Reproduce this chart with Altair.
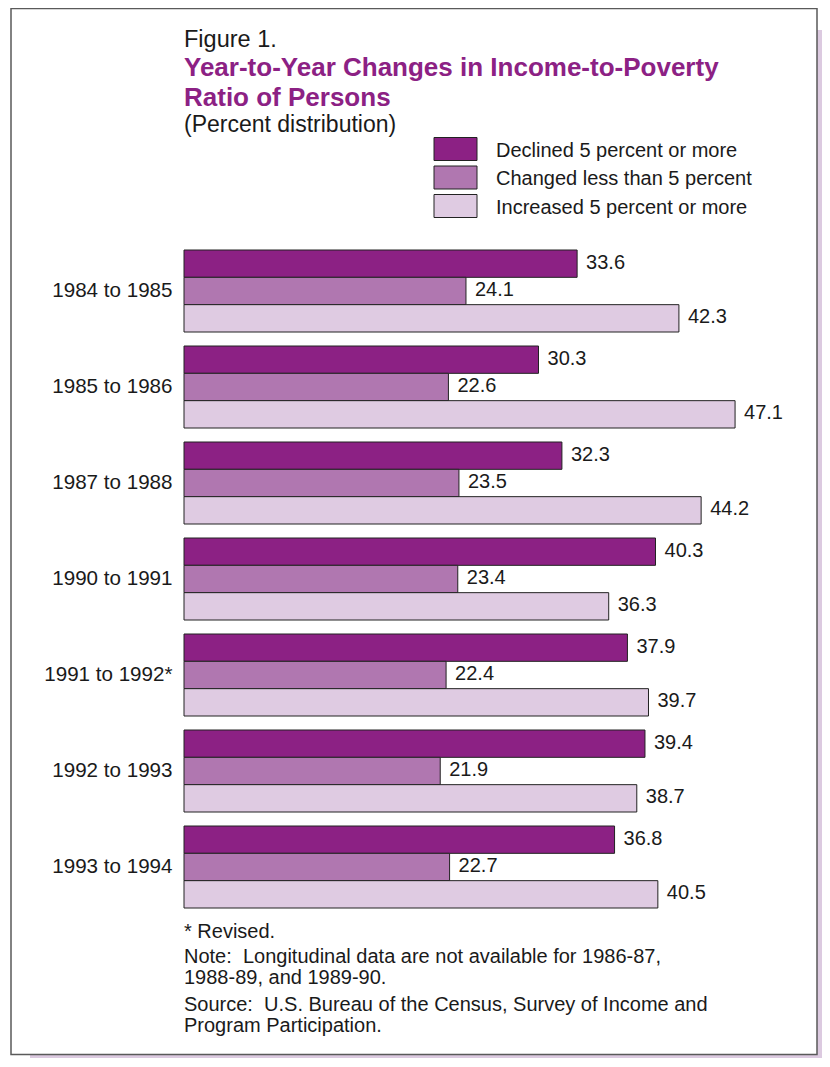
import altair as alt
import pandas as pd

# ---- data ----
periods = ["1984 to 1985", "1985 to 1986", "1987 to 1988", "1990 to 1991",
           "1991 to 1992*", "1992 to 1993", "1993 to 1994"]
series = ["Declined 5 percent or more", "Changed less than 5 percent",
          "Increased 5 percent or more"]
declined = [33.6, 30.3, 32.3, 40.3, 37.9, 39.4, 36.8]
changed = [24.1, 22.6, 23.5, 23.4, 22.4, 21.9, 22.7]
increased = [42.3, 47.1, 44.2, 36.3, 39.7, 38.7, 40.5]
colors = ["#8c2184", "#b077b0", "#dfcbe2"]

title_lines = ["Year-to-Year Changes in Income-to-Poverty", "Ratio of Persons"]
fig_label = "Figure 1."
subtitle = "(Percent distribution)"
notes = ["* Revised.",
         "Note:\u00a0 Longitudinal data are not available for 1986-87,",
         "1988-89, and 1989-90.",
         "Source:\u00a0 U.S. Bureau of the Census, Survey of Income and",
         "Program Participation."]

rows = []
for i, p in enumerate(periods):
    for s, vals in zip(series, [declined, changed, increased]):
        rows.append({"period": p, "series": s, "value": vals[i]})
df = pd.DataFrame(rows)

FONT = "Liberation Sans"
TXT = "#1a1a1a"
PURPLE = "#8c2184"
one = alt.Data(values=[{"k": 0}])

y_enc = alt.Y("period:N", sort=periods, title=None,
              scale=alt.Scale(paddingInner=14 / 96, paddingOuter=0),
              axis=alt.Axis(ticks=False, domain=False, labelFontSize=20.6,
                            labelColor=TXT, labelPadding=12, labelLimit=0,
                            labelFont=FONT, zindex=2))
yoff_enc = alt.YOffset("series:N", sort=series,
                       scale=alt.Scale(paddingInner=0, paddingOuter=0))
x_enc = alt.X("value:Q", scale=alt.Scale(domain=[0, 50]), axis=None)

bars = alt.Chart(df).mark_bar(stroke="#222222", strokeWidth=1).encode(
    y=y_enc, yOffset=yoff_enc, x=x_enc,
    color=alt.Color("series:N", sort=series,
                    scale=alt.Scale(domain=series, range=colors), legend=None),
)
labels = alt.Chart(df).mark_text(align="left", baseline="middle", dx=9, dy=-1,
                                 fontSize=20, color=TXT, font=FONT).encode(
    y=y_enc, yOffset=yoff_enc, x=x_enc,
    text=alt.Text("value:Q", format=".1f"),
)

# decorative frame and shadow (plot-relative pixels)
shadow = alt.Chart(one).mark_rect(fill="#dccae0").encode(
    x=alt.value(-154), x2=alt.value(646), y=alt.value(-220), y2=alt.value(830))
frame = alt.Chart(one).mark_rect(fill="white", stroke="#5a5a5a", strokeWidth=1.5).encode(
    x=alt.value(-173), x2=alt.value(633), y=alt.value(-241.5), y2=alt.value(804.5))

layers = [shadow, frame, bars, labels]

def text_layer(t, x, y, size=20, weight="normal", color=TXT, baseline="alphabetic"):
    return alt.Chart(one).mark_text(text=t, align="left", baseline=baseline,
                                    fontSize=size, fontWeight=weight,
                                    color=color, font=FONT).encode(
        x=alt.value(x), y=alt.value(y))

layers.append(text_layer(fig_label, 0, -203.5, size=23.5))
layers.append(text_layer(title_lines[0], 0, -174, size=26, weight="bold", color=PURPLE))
layers.append(text_layer(title_lines[1], 0, -144, size=26, weight="bold", color=PURPLE))
layers.append(text_layer(subtitle, 0, -118, size=23))

# legend
for i, (s, c) in enumerate(zip(series, colors)):
    top = -112.5 + i * 28.5
    layers.append(alt.Chart(one).mark_rect(fill=c, stroke="#222222", strokeWidth=1).encode(
        x=alt.value(250), x2=alt.value(293), y=alt.value(top), y2=alt.value(top + 23)))
    layers.append(text_layer(s, 312, top + 13, size=20, baseline="middle"))

note_y = [688, 713, 734, 761, 782]
for t, yy in zip(notes, note_y):
    layers.append(text_layer(t, 0, yy, size=20))

chart = alt.layer(*layers).properties(
    width=585, height=658,
    autosize=alt.AutoSizeParams(type="none"),
    padding={"left": 176, "top": 242, "right": 53, "bottom": 150},
).configure(font=FONT).configure_view(strokeWidth=0)

chart.save("out.html", embed_options={"renderer": "svg", "actions": False})
